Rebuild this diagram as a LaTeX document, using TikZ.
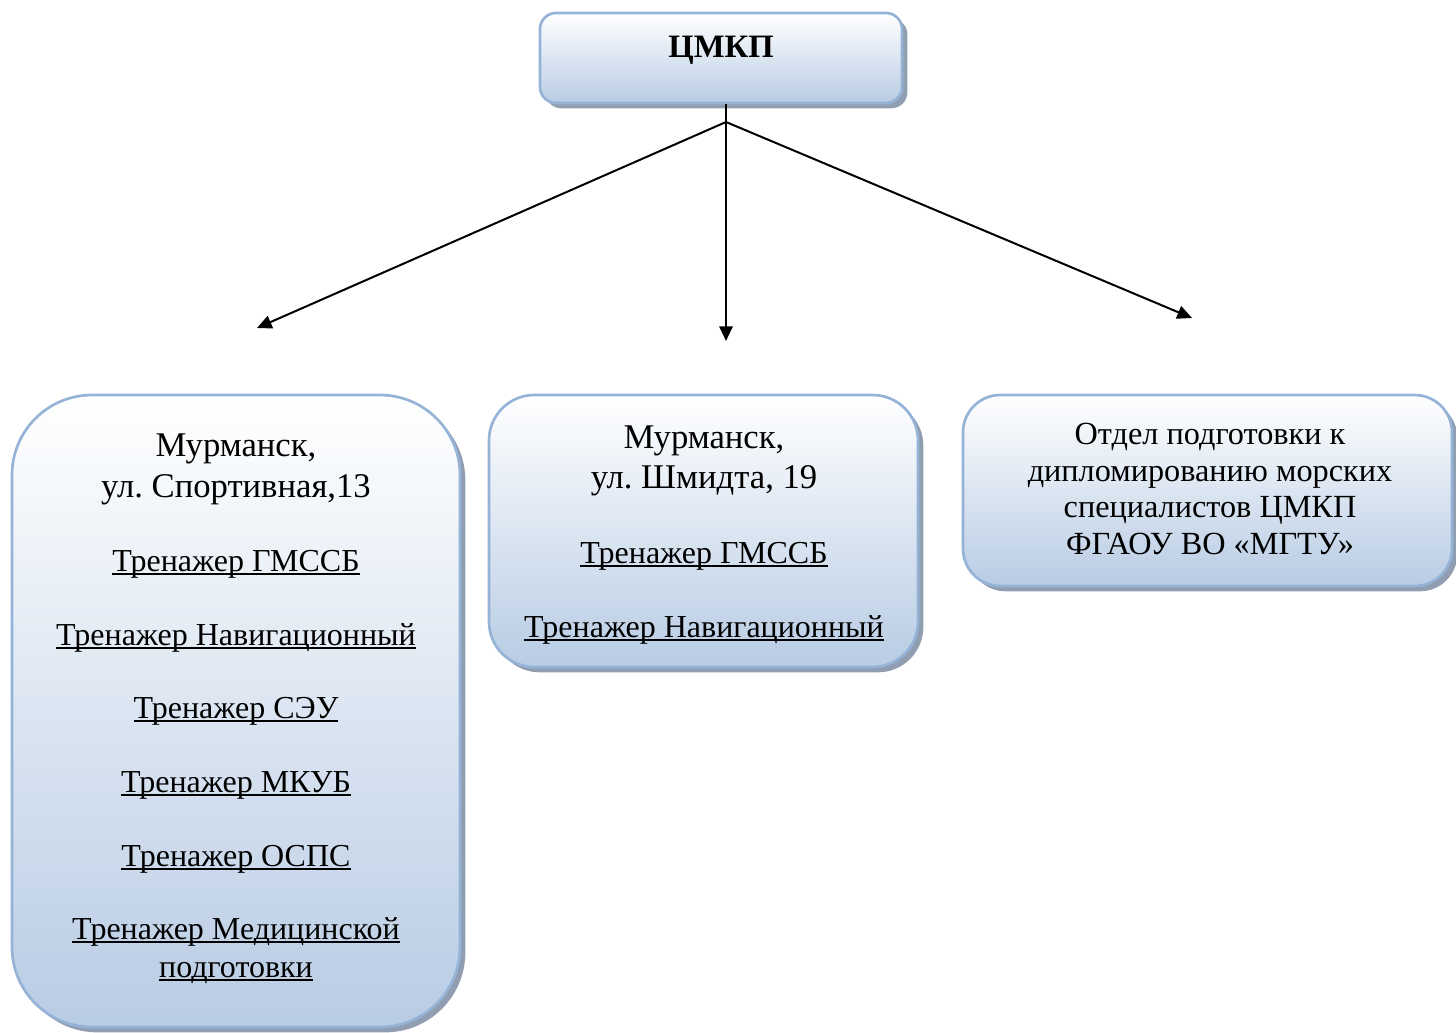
\documentclass[tikz,border=0pt]{standalone}
\usepackage{fontspec}
\setmainfont{Liberation Serif}
\usetikzlibrary{shadows,arrows.meta}
\definecolor{boxborder}{RGB}{149,179,215}
\definecolor{boxbottom}{RGB}{184,204,228}
\definecolor{boxshadow}{RGB}{145,158,178}
\newcommand{\ulx}[1]{\setbox0\hbox{#1}\rlap{\rule[-3pt]{\wd0}{1.3pt}}\box0}
\frenchspacing
\begin{document}
\begin{tikzpicture}[x=0.75pt,y=-0.75pt,
  panel/.style={rectangle, draw=boxborder, line width=2pt, top color=white, bottom color=boxbottom,
    rounded corners=#1, inner sep=0pt,
    drop shadow={shadow xshift=4pt, shadow yshift=-4pt, fill=boxshadow, opacity=1}},
  txt/.style={anchor=base, inner sep=0pt, font=\fontsize{24}{28}\selectfont},
  txta/.style={anchor=base, inner sep=0pt, font=\fontsize{26}{30}\selectfont},
  txts/.style={anchor=base, inner sep=0pt, font=\fontsize{24.2}{28}\selectfont},
  conn/.style={line width=1.5pt, -{Triangle[length=11pt,width=10pt]}}]
\useasboundingbox (0,0) rectangle (1456,1032);
% boxes
\node[panel=12pt, minimum width=271.5pt, minimum height=67.5pt] (top) at (721,58) {};
\node[panel=60pt, minimum width=336pt, minimum height=474pt] (left) at (236,711) {};
\node[panel=34pt, minimum width=321.75pt, minimum height=204pt] (mid) at (703.5,531) {};
\node[panel=28pt, minimum width=366.75pt, minimum height=143.25pt] (right) at (1207.5,490.5) {};
% top text
\node[anchor=base, inner sep=0pt, font=\fontsize{24.5}{28}\selectfont\bfseries] (ttop) at (721,57) {ЦМКП};
% left box text
\node[txta] (l1) at (236,456) {Мурманск,};
\node[txta] (l2) at (236,497) {ул.\ Спортивная,13};
\node[txt] (l3) at (236,571) {\ulx{Тренажер ГМССБ}};
\node[txt] (l4) at (236,645) {\ulx{Тренажер Навигационный}};
\node[txt] (l5) at (236,718) {\ulx{Тренажер СЭУ}};
\node[txt] (l6) at (236,792) {\ulx{Тренажер МКУБ}};
\node[txt] (l7) at (236,866) {\ulx{Тренажер ОСПС}};
\node[txt] (l8) at (236,939) {\ulx{Тренажер Медицинской}};
\node[txt] (l9) at (236,977) {\ulx{подготовки}};
% middle box text
\node[txta] (m1) at (704,448) {Мурманск,};
\node[txta] (m2) at (704,488) {ул.\ Шмидта, 19};
\node[txt] (m3) at (704,563) {\ulx{Тренажер ГМССБ}};
\node[txt] (m4) at (704,637) {\ulx{Тренажер Навигационный}};
% right box text
\node[txts] (r1) at (1210,444) {Отдел подготовки к};
\node[txts] (r2) at (1210,481) {дипломированию морских};
\node[txts] (r3) at (1210,517) {специалистов ЦМКП};
\node[txts] (r4) at (1210,554) {ФГАОУ ВО «МГТУ»};
% connectors
\coordinate (vtop) at (726,104);
\coordinate (split) at (726,122);
\coordinate (tl) at (257,328);
\coordinate (tm) at (726,341);
\coordinate (tr) at (1192,318);
\draw[conn] (vtop) -- (tm);
\draw[conn] (split) -- (tl);
\draw[conn] (split) -- (tr);
\end{tikzpicture}
\end{document}
